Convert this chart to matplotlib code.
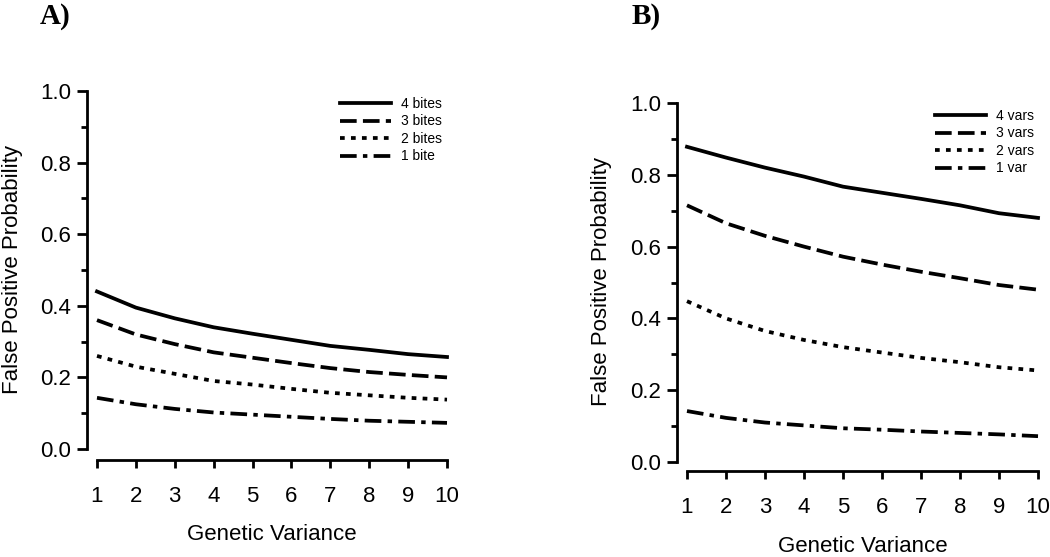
import numpy as np
import matplotlib
matplotlib.use('Agg')
import matplotlib.pyplot as plt

plt.rcParams['font.family'] = ['Liberation Sans', 'DejaVu Sans']
plt.rcParams['lines.scale_dashes'] = False

genvar = [1, 2, 3, 4, 5, 6, 7, 8, 9, 10]

# panel A: bites
bites4 = [0.44, 0.395, 0.365, 0.34, 0.322, 0.305, 0.288, 0.277, 0.265, 0.257]
bites3 = [0.36, 0.32, 0.293, 0.27, 0.255, 0.24, 0.226, 0.215, 0.207, 0.20]
bites2 = [0.26, 0.23, 0.21, 0.19, 0.18, 0.168, 0.157, 0.15, 0.143, 0.138]
bites1 = [0.143, 0.125, 0.112, 0.102, 0.096, 0.09, 0.084, 0.079, 0.076, 0.073]
labels_a = ['4 bites', '3 bites', '2 bites', '1 bite']

# panel B: vars
vars4 = [0.878, 0.848, 0.82, 0.795, 0.767, 0.75, 0.733, 0.715, 0.693, 0.68]
vars3 = [0.715, 0.665, 0.63, 0.6, 0.572, 0.55, 0.53, 0.512, 0.493, 0.48]
vars2 = [0.448, 0.4, 0.365, 0.34, 0.32, 0.305, 0.29, 0.278, 0.264, 0.255]
vars1 = [0.142, 0.123, 0.11, 0.102, 0.094, 0.09, 0.085, 0.081, 0.077, 0.072]
labels_b = ['4 vars', '3 vars', '2 vars', '1 var']

styles = ['-', (0, (12, 4.5)), (0, (3.4, 4.5)), (0, (12, 4.5, 3.2, 4.5))]

W, H = 1050, 557
fig = plt.figure(figsize=(W / 100, H / 100), dpi=100)


def px_axes(left, right, top, bottom):
    return fig.add_axes([left / W, 1 - bottom / H, (right - left) / W, (bottom - top) / H])


def setup(ax, xlim, ylim):
    ax.set_xlim(*xlim)
    ax.set_ylim(*ylim)
    for s in ['top', 'right']:
        ax.spines[s].set_visible(False)
    ax.spines['left'].set_bounds(0, 1)
    ax.spines['bottom'].set_bounds(1, 10)
    for s in ['left', 'bottom']:
        ax.spines[s].set_linewidth(2.0)
    ax.set_xticks(genvar)
    ax.set_yticks([0, 0.2, 0.4, 0.6, 0.8, 1.0])
    ax.set_yticks(np.arange(0.1, 1.0, 0.2), minor=True)
    ax.set_yticklabels(['0.0', '0.2', '0.4', '0.6', '0.8', '1.0'])
    ax.tick_params(axis='y', which='major', length=7.5, width=2.0, labelsize=16, pad=4)
    ax.tick_params(axis='y', which='minor', length=4, width=2.0)
    ax.tick_params(axis='x', length=6, width=2.0, labelsize=16, pad=13)


# ---- panel A
axA = px_axes(87, 457, 91, 460)
for vals, ls, lab in zip([bites4, bites3, bites2, bites1], styles, labels_a):
    axA.plot(genvar, vals, color='black', lw=2.7, linestyle=ls, label=lab)
setup(axA, (0.743, 10.257), (-0.0307, 1.0))
axA.legend(loc='upper left', bbox_to_anchor=(340 / W, 1 - 97 / H), bbox_transform=fig.transFigure,
           frameon=False, fontsize=10, handlelength=3.7, handletextpad=0.7,
           labelspacing=0.25, borderpad=0, borderaxespad=0)
fig.text(272 / W, 1 - 535 / H, 'Genetic Variance', fontsize=16, ha='center', va='center')
fig.text(13 / W, 1 - 269 / H, 'False Positive Probability', fontsize=16, ha='center', va='center',
         rotation=90)
fig.text(40 / W, 1 - 16 / H, 'A)', fontsize=21, fontweight='bold', family='Liberation Serif',
         ha='left', va='center')

# ---- panel B
axB = px_axes(677, 1048, 103, 471)
for vals, ls, lab in zip([vars4, vars3, vars2, vars1], styles, labels_b):
    axB.plot(genvar, vals, color='black', lw=2.7, linestyle=ls, label=lab)
setup(axB, (0.744, 10.256), (-0.025, 1.0))
axB.legend(loc='upper left', bbox_to_anchor=(935 / W, 1 - 109 / H), bbox_transform=fig.transFigure,
           frameon=False, fontsize=10, handlelength=3.7, handletextpad=0.7,
           labelspacing=0.25, borderpad=0, borderaxespad=0)
fig.text(863 / W, 1 - 546 / H, 'Genetic Variance', fontsize=16, ha='center', va='center')
fig.text(602 / W, 1 - 282 / H, 'False Positive Probability', fontsize=16, ha='center', va='center',
         rotation=90)
fig.text(632 / W, 1 - 16 / H, 'B)', fontsize=21, fontweight='bold', family='Liberation Serif',
         ha='left', va='center')

fig.savefig('out.png', dpi=100, facecolor='white')
